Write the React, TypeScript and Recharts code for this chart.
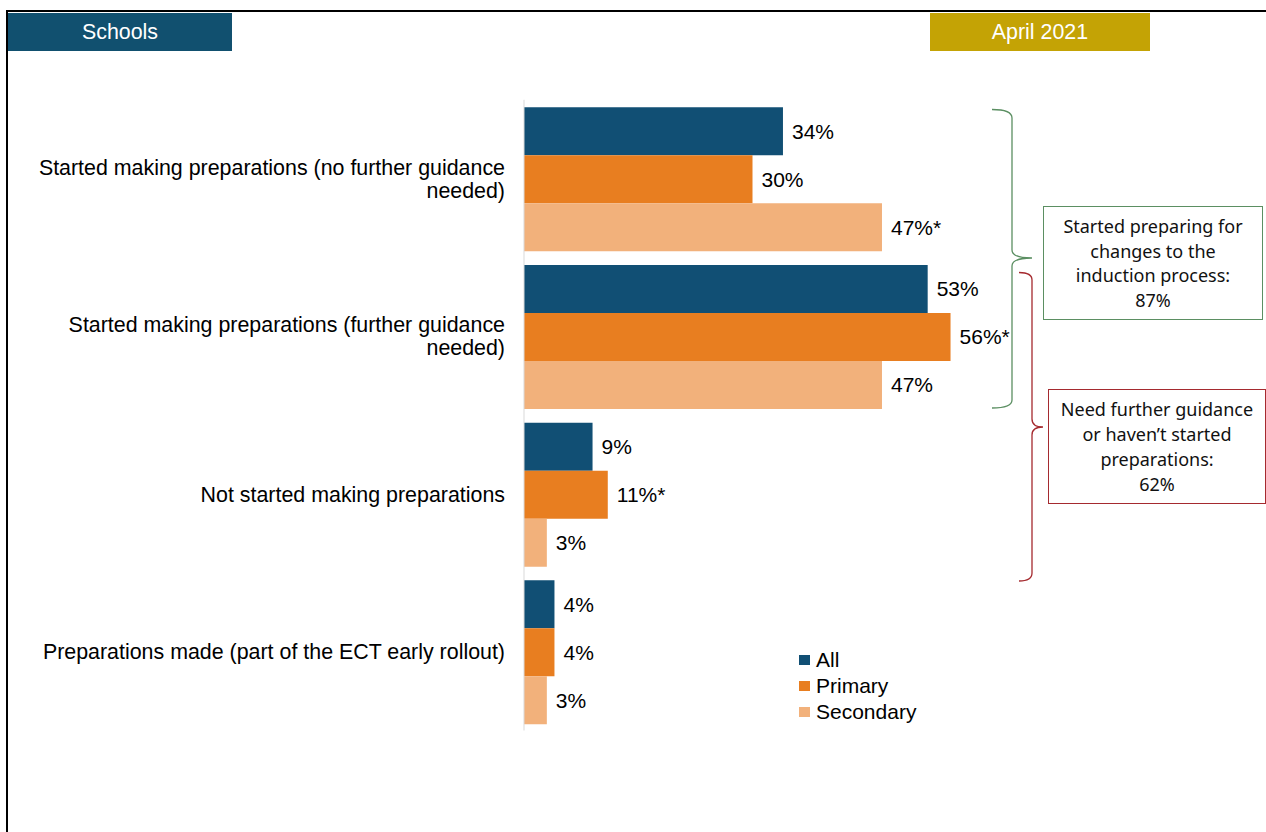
import React from 'react';
import { BarChart, Bar, XAxis, YAxis, Legend, LabelList } from 'recharts';

const categories = [
  'Started making preparations (no further guidance needed)',
  'Started making preparations (further guidance needed)',
  'Not started making preparations',
  'Preparations made (part of the ECT early rollout)',
];
const allValues = [34, 53, 9, 4];
const primaryValues = [30, 56, 11, 4];
const secondaryValues = [47, 47, 3, 3];
// significant differences are marked with an asterisk
const allSig = [false, false, false, false];
const primarySig = [false, true, true, false];
const secondarySig = [true, false, false, false];

const seriesNames = ['All', 'Primary', 'Secondary'];
const colors = ['#114F74', '#E87E20', '#F2B17B'];

const pct = (v: number, sig: boolean) => `${v}%${sig ? '*' : ''}`;

const data = categories.map((category, i) => ({
  category,
  all: allValues[i],
  primary: primaryValues[i],
  secondary: secondaryValues[i],
  allLabel: pct(allValues[i], allSig[i]),
  primaryLabel: pct(primaryValues[i], primarySig[i]),
  secondaryLabel: pct(secondaryValues[i], secondarySig[i]),
}));

const FONT = '"Liberation Sans", Arial, sans-serif';
const BOX_FONT = '"Noto Sans", "Open Sans", sans-serif';
const FS = 21;
const CAT_FS = 21.4;

let ctx: CanvasRenderingContext2D | null = null;
const measure = (s: string) => {
  if (!ctx) ctx = document.createElement('canvas').getContext('2d');
  if (!ctx) return s.length * CAT_FS * 0.5;
  ctx.font = `${CAT_FS}px "Liberation Sans", Arial, sans-serif`;
  return ctx.measureText(s).width;
};

const wrap = (s: string, maxW: number) => {
  const words = s.split(' ');
  const lines: string[] = [];
  let cur = '';
  words.forEach((w) => {
    const next = cur ? `${cur} ${w}` : w;
    if (cur && measure(next) > maxW) {
      lines.push(cur);
      cur = w;
    } else {
      cur = next;
    }
  });
  if (cur) lines.push(cur);
  return lines;
};

const CategoryTick = (props: any) => {
  const { x, y, payload } = props;
  const lines = wrap(String(payload.value), 475);
  const lh = 23;
  const y0 = y - ((lines.length - 1) * lh) / 2;
  return (
    <text x={x} y={y0} textAnchor="end" fontSize={CAT_FS} fontFamily={FONT} fill="#000">
      {lines.map((l, i) => (
        <tspan key={i} x={x} y={y0 + i * lh} dy="0.355em">
          {l}
        </tspan>
      ))}
    </text>
  );
};

const LegendContent = (props: any) => {
  const { payload } = props;
  return (
    <div style={{ fontFamily: FONT, fontSize: FS, color: '#000' }}>
      {(payload || []).map((entry: any) => (
        <div key={entry.value} style={{ display: 'flex', alignItems: 'center', height: 26 }}>
          <span style={{ width: 11, height: 10, background: entry.color, marginRight: 6, display: 'inline-block' }} />
          <span>{entry.value}</span>
        </div>
      ))}
    </div>
  );
};

const labelStyle = { fontSize: FS, fontFamily: FONT, fill: '#000' };

export default function App() {
  return (
    <div style={{ position: 'absolute', left: 0, top: 0, width: 1266, height: 832, overflow: 'hidden', background: '#fff' }}>
      {/* frame */}
      <div style={{ position: 'absolute', left: 6, top: 10, width: 1260, height: 2, background: '#000' }} />
      <div style={{ position: 'absolute', left: 6, top: 10, width: 2, height: 822, background: '#000' }} />
      {/* header tags */}
      <div style={{ position: 'absolute', left: 8, top: 13, width: 224, height: 38, background: '#11506F', color: '#fff', fontFamily: FONT, fontSize: CAT_FS, display: 'flex', alignItems: 'center', justifyContent: 'center' }}>
        Schools
      </div>
      <div style={{ position: 'absolute', left: 930, top: 13, width: 220, height: 38, background: '#C4A305', color: '#fff', fontFamily: FONT, fontSize: CAT_FS, display: 'flex', alignItems: 'center', justifyContent: 'center' }}>
        April 2021
      </div>

      <BarChart
        width={1266}
        height={832}
        data={data}
        layout="vertical"
        margin={{ top: 99.8, right: 285, bottom: 101.5, left: 0 }}
        barCategoryGap={7.5}
        barGap={0}
        style={{ position: 'absolute', left: 0, top: 0 }}
      >
        <XAxis type="number" domain={[0, 60]} hide />
        <YAxis
          type="category"
          dataKey="category"
          width={524}
          axisLine={{ stroke: '#D9D9D9', strokeWidth: 1 }}
          tickLine={false}
          tickSize={0}
          tickMargin={19}
          tick={<CategoryTick />}
          interval={0}
        />
        <Legend
          layout="vertical"
          align="center"
          verticalAlign="middle"
          content={<LegendContent />}
          wrapperStyle={{ left: 799, top: 647, width: 'auto' }}
        />
        <Bar dataKey="all" name={seriesNames[0]} fill={colors[0]} isAnimationActive={false}>
          <LabelList dataKey="allLabel" position="right" offset={9} style={labelStyle} />
        </Bar>
        <Bar dataKey="primary" name={seriesNames[1]} fill={colors[1]} isAnimationActive={false}>
          <LabelList dataKey="primaryLabel" position="right" offset={9} style={labelStyle} />
        </Bar>
        <Bar dataKey="secondary" name={seriesNames[2]} fill={colors[2]} isAnimationActive={false}>
          <LabelList dataKey="secondaryLabel" position="right" offset={9} style={labelStyle} />
        </Bar>
      </BarChart>

      {/* brackets */}
      <svg width={1266} height={832} style={{ position: 'absolute', left: 0, top: 0, pointerEvents: 'none' }}>
        <path
          d="M992,109.5 Q1012,109.5 1012,118 L1012,250 Q1012,258 1032,258 Q1012,258 1012,266 L1012,400 Q1012,408 992,408"
          fill="none"
          stroke="#5B8F62"
          strokeWidth={1.3}
        />
        <path
          d="M1019,272.5 Q1032,272.5 1032,280 L1032,419 Q1032,427 1043,427 Q1032,427 1032,435 L1032,573 Q1032,581 1019,581"
          fill="none"
          stroke="#A52A2F"
          strokeWidth={1.3}
        />
      </svg>

      {/* summary boxes */}
      <div style={{ position: 'absolute', left: 1043, top: 206, width: 218, height: 112, border: '1.5px solid #5B8F62', fontFamily: BOX_FONT, fontSize: 18, lineHeight: '24.5px', color: '#111', display: 'flex', flexDirection: 'column', alignItems: 'center', justifyContent: 'center', textAlign: 'center' }}>
        <div>Started preparing for</div>
        <div>changes to the</div>
        <div>induction process:</div>
        <div>87%</div>
      </div>
      <div style={{ position: 'absolute', left: 1048, top: 389, width: 216, height: 113, border: '1.5px solid #A52A2F', fontFamily: BOX_FONT, fontSize: 18, lineHeight: '25px', color: '#111', display: 'flex', flexDirection: 'column', alignItems: 'center', justifyContent: 'center', textAlign: 'center' }}>
        <div>Need further guidance</div>
        <div>or haven’t started</div>
        <div>preparations:</div>
        <div>62%</div>
      </div>
    </div>
  );
}
